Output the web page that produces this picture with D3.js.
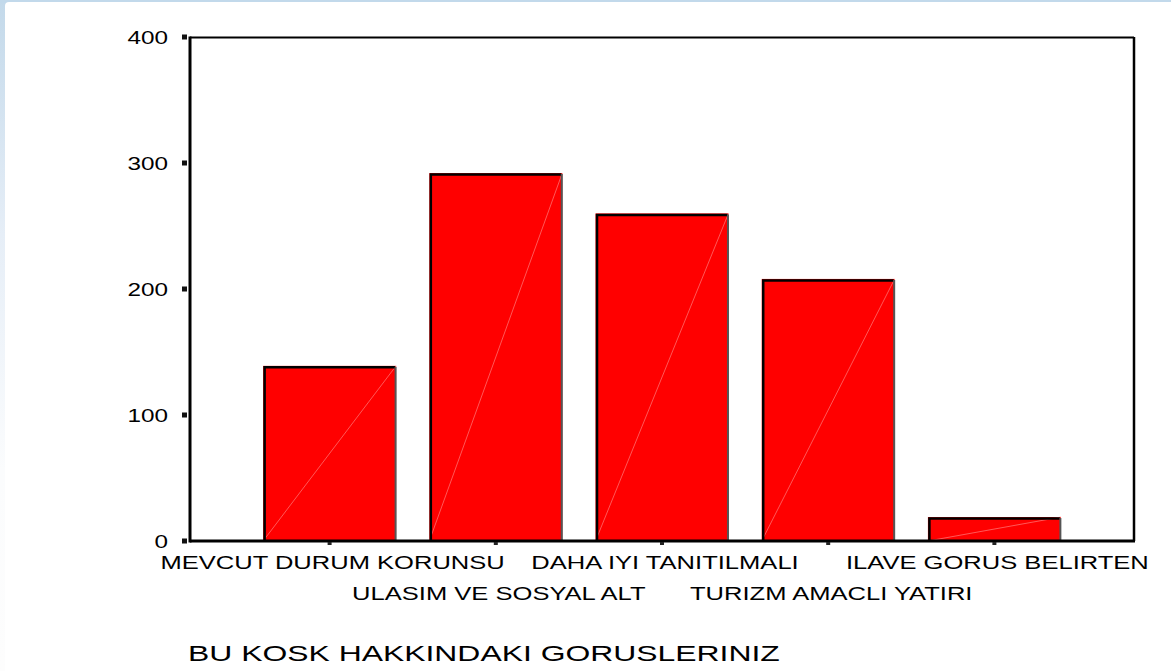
<!DOCTYPE html>
<html>
<head>
<meta charset="utf-8">
<script src="https://cdn.jsdelivr.net/npm/d3@7"></script>
<style>
  html, body { margin: 0; padding: 0; background: #ffffff; }
  svg { display: block; }
  text { font-family: "Liberation Sans", Arial, sans-serif; fill: #000; }
</style>
</head>
<body>
<script>
// ---- data ----
const categories = [
  "MEVCUT DURUM KORUNSU",
  "ULASIM VE SOSYAL ALT",
  "DAHA IYI TANITILMALI",
  "TURIZM AMACLI YATIRI",
  "ILAVE GORUS BELIRTEN"
];
const counts = [139, 292, 260, 208, 19];
const yTicks = [0, 100, 200, 300, 400];
const axisTitle = "BU KOSK HAKKINDAKI GORUSLERINIZ";

// ---- layout ----
const W = 1171, H = 671;
const plot = { left: 190, top: 37, right: 1134, bottom: 541 };
const stretch = 1.42; // horizontal stretch of all text in the original

const svg = d3.select("body").append("svg").attr("width", W).attr("height", H);

// background (slide frame)
const defs = svg.append("defs");
const lg = defs.append("linearGradient").attr("id", "bgGrad")
  .attr("x1", 0).attr("y1", 0).attr("x2", 0).attr("y2", 1);
lg.append("stop").attr("offset", "0%").attr("stop-color", "#c3d9ea");
lg.append("stop").attr("offset", "35%").attr("stop-color", "#e6eef7");
lg.append("stop").attr("offset", "70%").attr("stop-color", "#fbfcfd");
lg.append("stop").attr("offset", "100%").attr("stop-color", "#fdfdfd");
svg.append("rect").attr("width", W).attr("height", H).attr("fill", "url(#bgGrad)");
svg.append("rect").attr("x", 0).attr("y", 0).attr("width", W).attr("height", 3).attr("fill", "#c2d9eb");
svg.append("rect").attr("x", 5).attr("y", 2).attr("width", W).attr("height", H)
  .attr("rx", 4).attr("fill", "#ffffff");

// ---- scales ----
const x = d3.scaleBand().domain(categories)
  .range([plot.left, plot.right]).paddingInner(0.2).paddingOuter(0.44);
const y = d3.scaleLinear().domain([0, 400]).range([plot.bottom, plot.top]);

const g = svg.append("g");

// bars
const bars = g.selectAll("g.bar").data(categories).enter().append("g").attr("class", "bar");
bars.append("rect")
  .attr("x", d => x(d))
  .attr("y", (d, i) => y(counts[i]))
  .attr("width", x.bandwidth())
  .attr("height", (d, i) => y(0) - y(counts[i]))
  .attr("fill", "#ff0000");
// faint diagonal
bars.append("line")
  .attr("x1", d => x(d)).attr("y1", y(0))
  .attr("x2", d => x(d) + x.bandwidth()).attr("y2", (d, i) => y(counts[i]))
  .attr("stroke", "#ff8a8a").attr("stroke-width", 0.8).attr("opacity", 0.8);
// outlines: dark left/top, grey right
bars.append("path")
  .attr("d", (d, i) => {
    const x0 = x(d) + 1.5, x1 = x(d) + x.bandwidth() - 1, yt = y(counts[i]) + 1.5, yb = y(0);
    return `M${x0},${yb}V${yt}H${x1}`;
  })
  .attr("fill", "none").attr("stroke", "#000").attr("stroke-width", 2.5);
bars.append("line")
  .attr("x1", d => x(d) + x.bandwidth() - 0.5).attr("x2", d => x(d) + x.bandwidth() - 0.5)
  .attr("y1", (d, i) => y(counts[i]) + 1).attr("y2", y(0))
  .attr("stroke", "#555").attr("stroke-width", 2);

// frame
g.append("line").attr("x1", plot.left).attr("x2", plot.right).attr("y1", plot.top + 0.5).attr("y2", plot.top + 0.5)
  .attr("stroke", "#000").attr("stroke-width", 2);
g.append("line").attr("x1", plot.right).attr("x2", plot.right).attr("y1", plot.top).attr("y2", plot.bottom)
  .attr("stroke", "#000").attr("stroke-width", 2.5);
g.append("line").attr("x1", plot.left).attr("x2", plot.right + 1).attr("y1", plot.bottom).attr("y2", plot.bottom)
  .attr("stroke", "#000").attr("stroke-width", 3);
g.append("line").attr("x1", plot.left).attr("x2", plot.left).attr("y1", plot.top - 0.5).attr("y2", plot.bottom + 1.5)
  .attr("stroke", "#000").attr("stroke-width", 3);

// y axis ticks (small squares) and labels
const yAxis = g.append("g");
yAxis.selectAll("rect").data(yTicks).enter().append("rect")
  .attr("x", plot.left - 8).attr("y", d => y(d) - 2.5)
  .attr("width", 5).attr("height", 5).attr("fill", "#111");
yAxis.selectAll("text").data(yTicks).enter().append("text")
  .attr("transform", d => `translate(${plot.left - 22},${y(d) + 7}) scale(1.35,1)`)
  .attr("text-anchor", "end")
  .style("font-size", "18px")
  .text(d => d);

// x axis ticks
g.selectAll("rect.xt").data(categories).enter().append("rect").attr("class", "xt")
  .attr("x", d => x(d) + x.bandwidth() / 2 - 2).attr("y", plot.bottom + 1)
  .attr("width", 4).attr("height", 3).attr("fill", "#222");

// category labels (staggered)
g.selectAll("text.cat").data(categories).enter().append("text").attr("class", "cat")
  .attr("transform", (d, i) => `translate(${x(d) + x.bandwidth() / 2 + 3},${i % 2 === 0 ? 569 : 600}) scale(${stretch},1)`)
  .attr("text-anchor", "middle")
  .style("font-size", "18px")
  .text(d => d);

// axis title
svg.append("text")
  .attr("transform", `translate(188,661) scale(1.45,1)`)
  .style("font-size", "22px")
  .text(axisTitle);
</script>
</body>
</html>
